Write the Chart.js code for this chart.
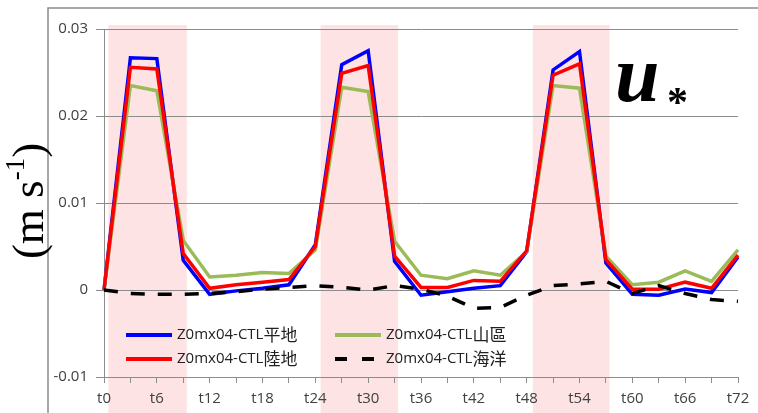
<!DOCTYPE html>
<html>
<head>
<meta charset="utf-8">
<script src="https://cdn.jsdelivr.net/npm/chart.js@4"></script>
<style>
  body { margin: 0; background: #fff; }
</style>
</head>
<body>
<canvas id="ustar" width="758" height="413"></canvas>
<script>
// Friction velocity differences (Z0mx04 - CTL), every 3 hours
const hourLabels = ['t0', 't3', 't6', 't9', 't12', 't15', 't18', 't21', 't24', 't27', 't30', 't33', 't36',
                    't39', 't42', 't45', 't48', 't51', 't54', 't57', 't60', 't63', 't66', 't69', 't72'];
const shownLabels = ['t0', 't6', 't12', 't18', 't24', 't30', 't36', 't42', 't48', 't54', 't60', 't66', 't72'];
const yTicks = [-0.01, 0, 0.01, 0.02, 0.03];

const flatLand = [0, 0.0267, 0.0266, 0.0034, -0.0005, -0.0001, 0.0002, 0.0006, 0.0052, 0.0259, 0.0275, 0.0033, -0.0006,
                  -0.0002, 0.0002, 0.0005, 0.0044, 0.0253, 0.0274, 0.0031, -0.0005, -0.0006, 0.0001, -0.0003, 0.0038];
const mountain = [0, 0.0235, 0.0229, 0.0057, 0.0015, 0.0017, 0.0020, 0.0019, 0.0046, 0.0233, 0.0228, 0.0056, 0.0017,
                  0.0013, 0.0022, 0.0017, 0.0044, 0.0235, 0.0232, 0.0039, 0.0006, 0.0009, 0.0022, 0.0010, 0.0046];
const land = [0, 0.0256, 0.0254, 0.0042, 0.0002, 0.0006, 0.0009, 0.0012, 0.0050, 0.0249, 0.0258, 0.0039, 0.0003,
              0.0003, 0.0011, 0.0010, 0.0045, 0.0247, 0.0260, 0.0035, 0.0001, 0.0001, 0.0009, 0.0002, 0.0040];
const ocean = [0, -0.0004, -0.0005, -0.0005, -0.0004, -0.0002, 0.0001, 0.0003, 0.0005, 0.0003, 0.0000, 0.0005, 0.0001,
               -0.0007, -0.0021, -0.0020, -0.0006, 0.0005, 0.0007, 0.0010, -0.0004, 0.0005, -0.0004, -0.0011, -0.0013];

// daytime periods (hours) shaded in pink
const dayBands = [[0.5, 9.4], [24.6, 33.4], [48.7, 57.4]];

const seriesNames = ['Z0mx04-CTL平地', 'Z0mx04-CTL山區', 'Z0mx04-CTL陸地', 'Z0mx04-CTL海洋'];
const seriesColors = ['#0000ff', '#9bbb59', '#ff0000', '#000000'];

const GRID = '#8c8c8c';
const TEXT = '#404040';

const backdrop = {
    id: 'backdrop',
    beforeDraw(chart) {
        const { ctx, chartArea, scales } = chart;
        ctx.save();
        ctx.fillStyle = '#fff';
        ctx.fillRect(0, 0, chart.width, chart.height);

        // pink day bands (category index = hour / 3)
        ctx.fillStyle = '#fde3e3';
        dayBands.forEach(([a, b]) => {
            const x0 = scales.x.getPixelForValue(a / 3);
            const x1 = scales.x.getPixelForValue(b / 3);
            ctx.fillRect(x0, chartArea.top - 4, x1 - x0, chart.height);
        });

        // outer frame
        ctx.strokeStyle = '#8c8c8c';
        ctx.lineWidth = 1.5;
        ctx.beginPath();
        ctx.moveTo(48, chart.height);
        ctx.lineTo(48, 8);
        ctx.lineTo(chart.width, 8);
        ctx.stroke();
        ctx.restore();
    }
};

const annotations = {
    id: 'annotations',
    afterDraw(chart) {
        const { ctx } = chart;
        ctx.save();

        // legend in two columns inside the plot
        const cells = [
            { i: 0, x: 126, y: 335 }, { i: 1, x: 335, y: 335 },
            { i: 2, x: 126, y: 359 }, { i: 3, x: 335, y: 359 }
        ];
        cells.forEach(c => {
            ctx.strokeStyle = seriesColors[c.i];
            ctx.lineWidth = 4;
            ctx.setLineDash(c.i === 3 ? [12, 15] : []);
            ctx.beginPath();
            ctx.moveTo(c.x, c.y);
            ctx.lineTo(c.x + 46, c.y);
            ctx.stroke();
            ctx.setLineDash([]);

            const name = seriesNames[c.i];
            const latin = name.slice(0, 10);
            const cjk = name.slice(10);
            ctx.fillStyle = '#222';
            ctx.textBaseline = 'middle';
            ctx.textAlign = 'left';
            ctx.font = '15px "Open Sans"';
            ctx.fillText(latin, c.x + 51, c.y);
            const w = ctx.measureText(latin).width;
            ctx.font = '17px "Noto Sans CJK TC"';
            ctx.fillText(cjk, c.x + 51 + w, c.y);
        });

        // u* label
        ctx.fillStyle = '#000';
        ctx.textBaseline = 'alphabetic';
        ctx.font = 'italic bold 80px "Liberation Serif"';
        ctx.fillText('u', 615, 101);
        ctx.font = 'bold 42px "Liberation Serif"';
        ctx.fillText('*', 667, 116);

        // y-axis unit, rotated
        ctx.translate(31, 201);
        ctx.rotate(-Math.PI / 2);
        const big = '45px "Liberation Serif"';
        const small = '27px "Liberation Serif"';
        ctx.font = big;
        const wA = ctx.measureText('(m s').width;
        const wC = ctx.measureText(')').width;
        ctx.font = small;
        const wB = ctx.measureText('-1').width;
        let x = -(wA + wB + wC) / 2;
        ctx.textBaseline = 'middle';
        ctx.font = big;
        ctx.fillText('(m s', x, 0);
        x += wA;
        ctx.font = small;
        ctx.fillText('-1', x, -14);
        x += wB;
        ctx.font = big;
        ctx.fillText(')', x, 0);
        ctx.restore();
    }
};

const lineSet = (idx, data, order, extra) => Object.assign({
    label: seriesNames[idx],
    data: data,
    borderColor: seriesColors[idx],
    borderWidth: 3.5,
    pointRadius: 0,
    tension: 0,
    fill: false,
    order: order
}, extra || {});

new Chart(document.getElementById('ustar'), {
    type: 'line',
    data: {
        labels: hourLabels,
        datasets: [
            lineSet(0, flatLand, 4),
            lineSet(1, mountain, 3),
            lineSet(2, land, 2),
            lineSet(3, ocean, 1, { borderDash: [14, 13], borderCapStyle: 'butt' })
        ]
    },
    options: {
        responsive: false,
        animation: false,
        layout: { padding: { top: 29, right: 20, left: 0, bottom: 0 } },
        plugins: {
            legend: { display: false },
            tooltip: { enabled: false }
        },
        scales: {
            x: {
                type: 'category',
                offset: false,
                afterFit: s => { s.height = 36; },
                grid: { drawOnChartArea: false, drawTicks: true, tickLength: 6, color: GRID },
                border: { color: GRID, width: 1 },
                ticks: {
                    autoSkip: false,
                    maxRotation: 0,
                    padding: 7,
                    color: TEXT,
                    font: { family: 'Open Sans', size: 15 },
                    callback: function (v) {
                        const lab = this.getLabelForValue(v);
                        return shownLabels.includes(lab) ? lab : '';
                    }
                }
            },
            y: {
                min: -0.01,
                max: 0.03,
                afterFit: s => { s.width = 104; },
                afterBuildTicks: s => { s.ticks = yTicks.map(v => ({ value: v })); },
                grid: { color: GRID, tickLength: 8, lineWidth: 1 },
                border: { color: GRID, width: 1 },
                ticks: {
                    padding: 8,
                    color: TEXT,
                    font: { family: 'Open Sans', size: 15 },
                    callback: v => String(Number(v.toFixed(2)))
                }
            }
        }
    },
    plugins: [backdrop, annotations]
});
</script>
</body>
</html>
